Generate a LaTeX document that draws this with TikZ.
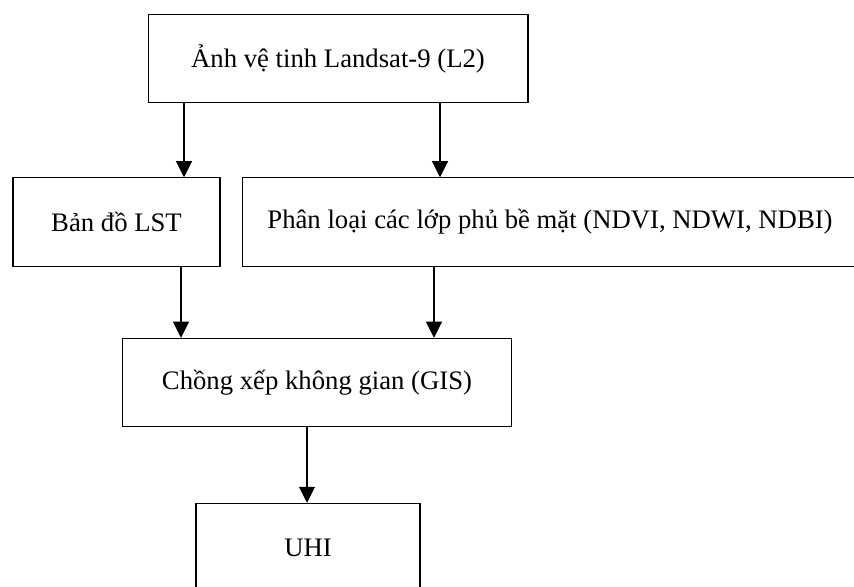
\documentclass[tikz,border=0pt]{standalone}
\usepackage{fontspec}
\setmainfont{Liberation Serif}
\usetikzlibrary{arrows.meta}

\begin{document}
\begin{tikzpicture}[x=0.02cm, y=-0.02cm,
		stage/.style={draw, line width=.6pt, minimum height=1.77cm, inner sep=0pt, font=\fontsize{15.2}{17}\selectfont},
		flow/.style={-{Triangle[length=.32cm, width=.32cm]}, line width=.6pt}]
	\useasboundingbox (0,0) rectangle (854,586);
	\clip (0,0) rectangle (854,586);
		% steps of the workflow
		\node[stage, minimum width=7.6cm]  (img) at (338, 58.5) {Ảnh vệ tinh Landsat-9 (L2)};
		\node[stage, minimum width=4.14cm] (lst) at (116.5, 222) {Bản đồ LST};
		\node[stage, minimum width=12.3cm] (cls) at (550, 222) {Phân loại các lớp phủ bề mặt (NDVI, NDWI, NDBI)};
		\node[stage, minimum width=7.8cm]  (gis) at (317, 382.5) {Chồng xếp không gian (GIS)};
		\node[stage, minimum width=4.48cm] (uhi) at (308, 547.5) {UHI};
		% arrows
		\draw[flow] (img.south -| 184,0) -- (lst.north -| 184,0);
		\draw[flow] (img.south -| 440,0) -- (cls.north -| 440,0);
		\draw[flow] (lst.south -| 181,0) -- (gis.north -| 181,0);
		\draw[flow] (cls.south -| 434,0) -- (gis.north -| 434,0);
		\draw[flow] (gis.south -| 307,0) -- (uhi.north -| 307,0);
\end{tikzpicture}
\end{document}
